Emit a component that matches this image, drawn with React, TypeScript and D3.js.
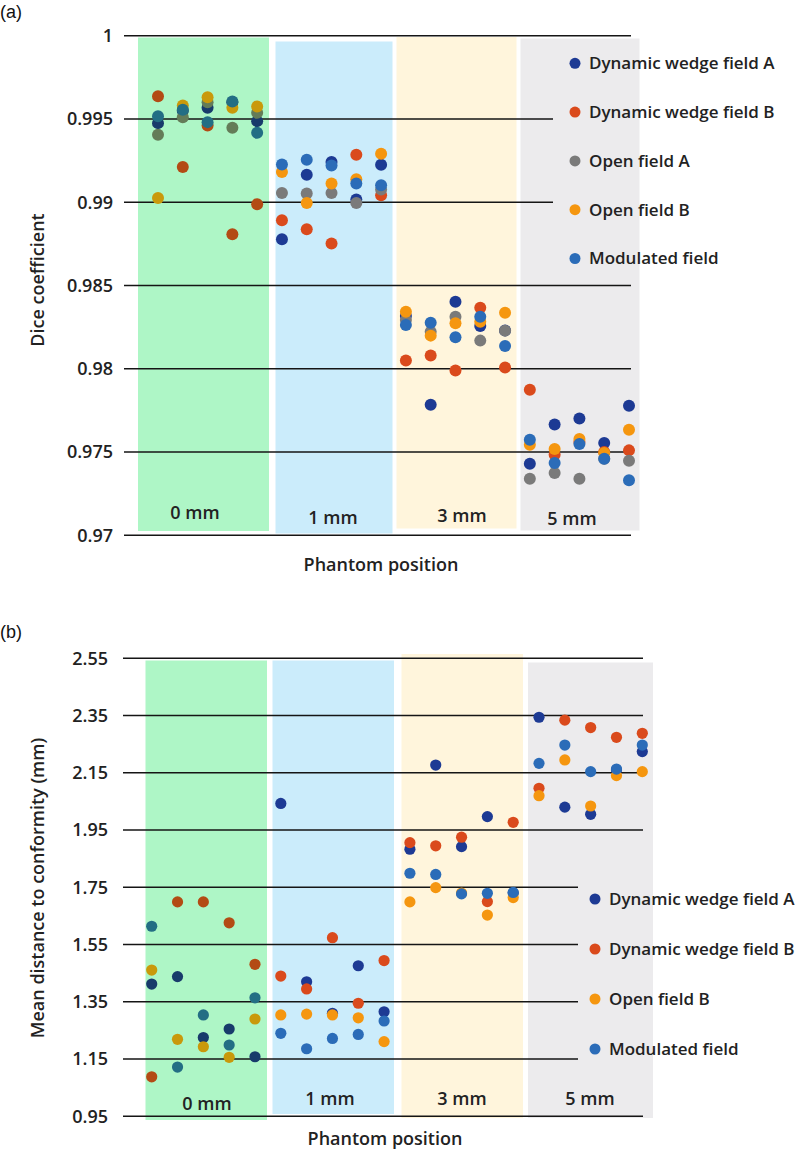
import React from "react";
import * as d3 from "d3";

// ---------- DATA ----------
const groups = ["0 mm", "1 mm", "3 mm", "5 mm"];
const repeats = [1, 2, 3, 4, 5];

// Panel (a): Dice coefficient
const seriesA = ["Dynamic wedge field A", "Dynamic wedge field B", "Open field A", "Open field B", "Modulated field"];
const diceDWA = [0.99475, 0.9955, 0.99567, 0.996, 0.99487, 0.98778, 0.99165, 0.99241, 0.99016, 0.99225, 0.98317, 0.97784, 0.98403, 0.98257, 0.9823, 0.9743, 0.97665, 0.97701, 0.97554, 0.97778];
const diceDWB = [0.99637, 0.99211, 0.99461, 0.98808, 0.98988, 0.98892, 0.98838, 0.98752, 0.99285, 0.99042, 0.98049, 0.98079, 0.97989, 0.98367, 0.98007, 0.97874, 0.97484, 0.9756, 0.975, 0.9751];
const diceOpenA = [0.99405, 0.99511, 0.996, 0.99447, 0.99537, 0.99056, 0.99052, 0.99056, 0.98996, 0.99076, 0.98293, 0.98223, 0.98313, 0.98169, 0.98229, 0.97339, 0.97374, 0.97339, 0.9746, 0.97448];
const diceOpenB = [0.99026, 0.99581, 0.9963, 0.99567, 0.99575, 0.99181, 0.98996, 0.99112, 0.99138, 0.99291, 0.98343, 0.98199, 0.98273, 0.98283, 0.98337, 0.97544, 0.97518, 0.97578, 0.97494, 0.97634];
const diceMod = [0.99517, 0.99555, 0.99481, 0.99605, 0.99417, 0.99227, 0.99255, 0.99221, 0.99112, 0.99102, 0.98263, 0.98277, 0.98189, 0.98313, 0.98137, 0.97574, 0.97434, 0.97548, 0.9746, 0.9733];
const ticksA = [1, 0.995, 0.99, 0.985, 0.98, 0.975, 0.97];
const tickLabelsA = ["1", "0.995", "0.99", "0.985", "0.98", "0.975", "0.97"];

// Panel (b): Mean distance to conformity (mm)
const seriesB = ["Dynamic wedge field A", "Dynamic wedge field B", "Open field B", "Modulated field"];
const mdcDWA = [1.412, 1.438, 1.225, 1.255, 1.158, 2.043, 1.42, 1.31, 1.476, 1.315, 1.883, 2.177, 1.892, 1.997, 1.73, 2.344, 2.03, 2.005, 2.16, 2.224];
const mdcDWB = [1.088, 1.699, 1.699, 1.626, 1.481, 1.44, 1.395, 1.574, 1.345, 1.494, 1.906, 1.895, 1.925, 1.7, 1.977, 2.096, 2.334, 2.308, 2.274, 2.288];
const mdcOpenB = [1.461, 1.219, 1.193, 1.156, 1.29, 1.304, 1.307, 1.304, 1.294, 1.211, 1.699, 1.749, 1.73, 1.653, 1.714, 2.07, 2.195, 2.034, 2.14, 2.154];
const mdcMod = [1.614, 1.122, 1.304, 1.199, 1.364, 1.24, 1.186, 1.222, 1.236, 1.283, 1.799, 1.795, 1.727, 1.729, 1.732, 2.183, 2.247, 2.154, 2.163, 2.247];
const ticksB = [2.55, 2.35, 2.15, 1.95, 1.75, 1.55, 1.35, 1.15, 0.95];
const tickLabelsB = ["2.55", "2.35", "2.15", "1.95", "1.75", "1.55", "1.35", "1.15", "0.95"];

// ---------- STYLE ----------
const colorOf: Record<string, string> = {
  "Dynamic wedge field A": "#1d3a94",
  "Dynamic wedge field B": "#da4a1c",
  "Open field A": "#7a7a7a",
  "Open field B": "#f5960f",
  "Modulated field": "#2b6cb8",
};
const bgColors = ["#aef6c6", "#cbecfb", "#fff5dc", "#ecebed"];
const FONT = "'Open Sans', 'Noto Sans', sans-serif";
const TXT = "#222";
const FS = 18;

function tint(c: string) {
  const col = d3.rgb(c);
  return d3.rgb(Math.min(255, col.r * 0.82), Math.min(255, col.g * 1.02), col.b * 0.72).formatHex();
}

const sampleIds = groups.flatMap((g) => repeats.map((r) => `${g}#${r}`));

type PanelCfg = {
  top: number;
  bottom: number;
  yDomain: [number, number];
  xRange: [number, number];
  ticks: number[];
  tickLabels: string[];
  shortTicks: number[];
  lineX0: number;
  lineX1: number;
  shortX1: number;
  labelX: number;
  series: string[];
  values: number[][];
  rects: { x0: number; x1: number; y0: number; y1: number }[];
  groupLabelPos: { x: number; y: number }[];
  legendX: number;
  legendY0: number;
  legendStep: number;
  yTitle: string;
  yTitleX: number;
  yTitleY: number;
  xTitleX: number;
  xTitleY: number;
  panelLabel: string;
  panelLabelY: number;
  r: number;
};

function Panel({ cfg }: { cfg: PanelCfg }) {
  const y = d3.scaleLinear().domain(cfg.yDomain).range([cfg.bottom, cfg.top]);
  const x = d3.scalePoint<string>().domain(sampleIds).range(cfg.xRange);
  return (
    <g>
      <text x={0} y={cfg.panelLabelY} fontFamily="'Liberation Sans', Arial, sans-serif" fontSize={18} fill="#111">
        {cfg.panelLabel}
      </text>
      {cfg.rects.map((r, i) => (
        <rect key={i} x={r.x0} y={r.y0} width={r.x1 - r.x0} height={r.y1 - r.y0} fill={bgColors[i]} />
      ))}
      {cfg.ticks.map((t, i) => (
        <g key={i}>
          <line
            x1={cfg.lineX0}
            x2={cfg.shortTicks.includes(t) ? cfg.shortX1 : cfg.lineX1}
            y1={y(t)}
            y2={y(t)}
            stroke="#151515"
            strokeWidth={1.6}
          />
          <text
            x={cfg.labelX}
            y={y(t)}
            dy="0.35em"
            textAnchor="end"
            fontFamily={FONT}
            fontWeight={600}
            fontSize={FS}
            fill={TXT}
          >
            {cfg.tickLabels[i]}
          </text>
        </g>
      ))}
      {cfg.groupLabelPos.map((p, i) => (
        <text key={i} x={p.x} y={p.y} textAnchor="middle" fontFamily={FONT} fontWeight={600} fontSize={FS} fill={TXT}>
          {groups[i]}
        </text>
      ))}
      {cfg.series.map((s, si) => (
        <g key={s}>
          {cfg.values[si].map((v, i) => {
            const id = sampleIds[i];
            const inFirst = id.startsWith(groups[0]);
            return (
              <circle key={i} cx={x(id)} cy={y(v)} r={cfg.r} fill={inFirst ? tint(colorOf[s]) : colorOf[s]} />
            );
          })}
        </g>
      ))}
      {cfg.series.map((s, si) => (
        <g key={s} transform={`translate(${cfg.legendX},${cfg.legendY0 + si * cfg.legendStep})`}>
          <circle cx={0} cy={0} r={5.5} fill={colorOf[s]} />
          <text x={14} y={0} dy="0.35em" fontFamily={FONT} fontWeight={600} fontSize={17} fill={TXT}>
            {s}
          </text>
        </g>
      ))}
      <text
        transform={`translate(${cfg.yTitleX},${cfg.yTitleY}) rotate(-90)`}
        textAnchor="middle"
        fontFamily={FONT}
        fontWeight={600}
        fontSize={FS}
        fill={TXT}
      >
        {cfg.yTitle}
      </text>
      <text x={cfg.xTitleX} y={cfg.xTitleY} textAnchor="middle" fontFamily={FONT} fontWeight={600} fontSize={FS} fill={TXT}>
        Phantom position
      </text>
    </g>
  );
}

const panelA: PanelCfg = {
  top: 35.7,
  bottom: 535.3,
  yDomain: [0.97, 1],
  xRange: [158, 629],
  ticks: ticksA,
  tickLabels: tickLabelsA,
  shortTicks: [0.995, 0.99],
  lineX0: 124,
  lineX1: 631,
  shortX1: 553,
  labelX: 113,
  series: seriesA,
  values: [diceDWA, diceDWB, diceOpenA, diceOpenB, diceMod],
  rects: [
    { x0: 138, x1: 269, y0: 37.5, y1: 531 },
    { x0: 275.5, x1: 392.5, y0: 41.5, y1: 533.5 },
    { x0: 396.5, x1: 516.5, y0: 37, y1: 528.5 },
    { x0: 520.5, x1: 639.5, y0: 38.5, y1: 530.5 },
  ],
  groupLabelPos: [
    { x: 195, y: 519 },
    { x: 333, y: 524 },
    { x: 462, y: 522 },
    { x: 572, y: 525 },
  ],
  legendX: 575,
  legendY0: 63.3,
  legendStep: 48.8,
  yTitle: "Dice coefficient",
  yTitleX: 44,
  yTitleY: 280,
  xTitleX: 381,
  xTitleY: 571,
  panelLabel: "(a)",
  panelLabelY: 18,
  r: 6,
};

const panelB: PanelCfg = {
  top: 658.3,
  bottom: 1116.3,
  yDomain: [0.95, 2.55],
  xRange: [151.7, 642.3],
  ticks: ticksB,
  tickLabels: tickLabelsB,
  shortTicks: [1.75, 1.55, 1.35, 1.15],
  lineX0: 123,
  lineX1: 643,
  shortX1: 578,
  labelX: 108,
  series: seriesB,
  values: [mdcDWA, mdcDWB, mdcOpenB, mdcMod],
  rects: [
    { x0: 145.5, x1: 267, y0: 660.5, y1: 1120 },
    { x0: 272.5, x1: 394, y0: 660.5, y1: 1114 },
    { x0: 401.5, x1: 523, y0: 654, y1: 1118 },
    { x0: 528, x1: 653, y0: 662.5, y1: 1118 },
  ],
  groupLabelPos: [
    { x: 207, y: 1110 },
    { x: 330, y: 1105 },
    { x: 462, y: 1105 },
    { x: 590, y: 1105 },
  ],
  legendX: 595,
  legendY0: 899,
  legendStep: 50,
  yTitle: "Mean distance to conformity (mm)",
  yTitleX: 44,
  yTitleY: 888,
  xTitleX: 385,
  xTitleY: 1145,
  panelLabel: "(b)",
  panelLabelY: 638,
  r: 5.6,
};

export default function App() {
  return (
    <svg
      width={807}
      height={1153}
      viewBox="0 0 807 1153"
      style={{ position: "absolute", left: 0, top: 0, background: "#fff" }}
    >
      <rect x={0} y={0} width={807} height={1153} fill="#fff" />
      <Panel cfg={panelA} />
      <Panel cfg={panelB} />
    </svg>
  );
}
